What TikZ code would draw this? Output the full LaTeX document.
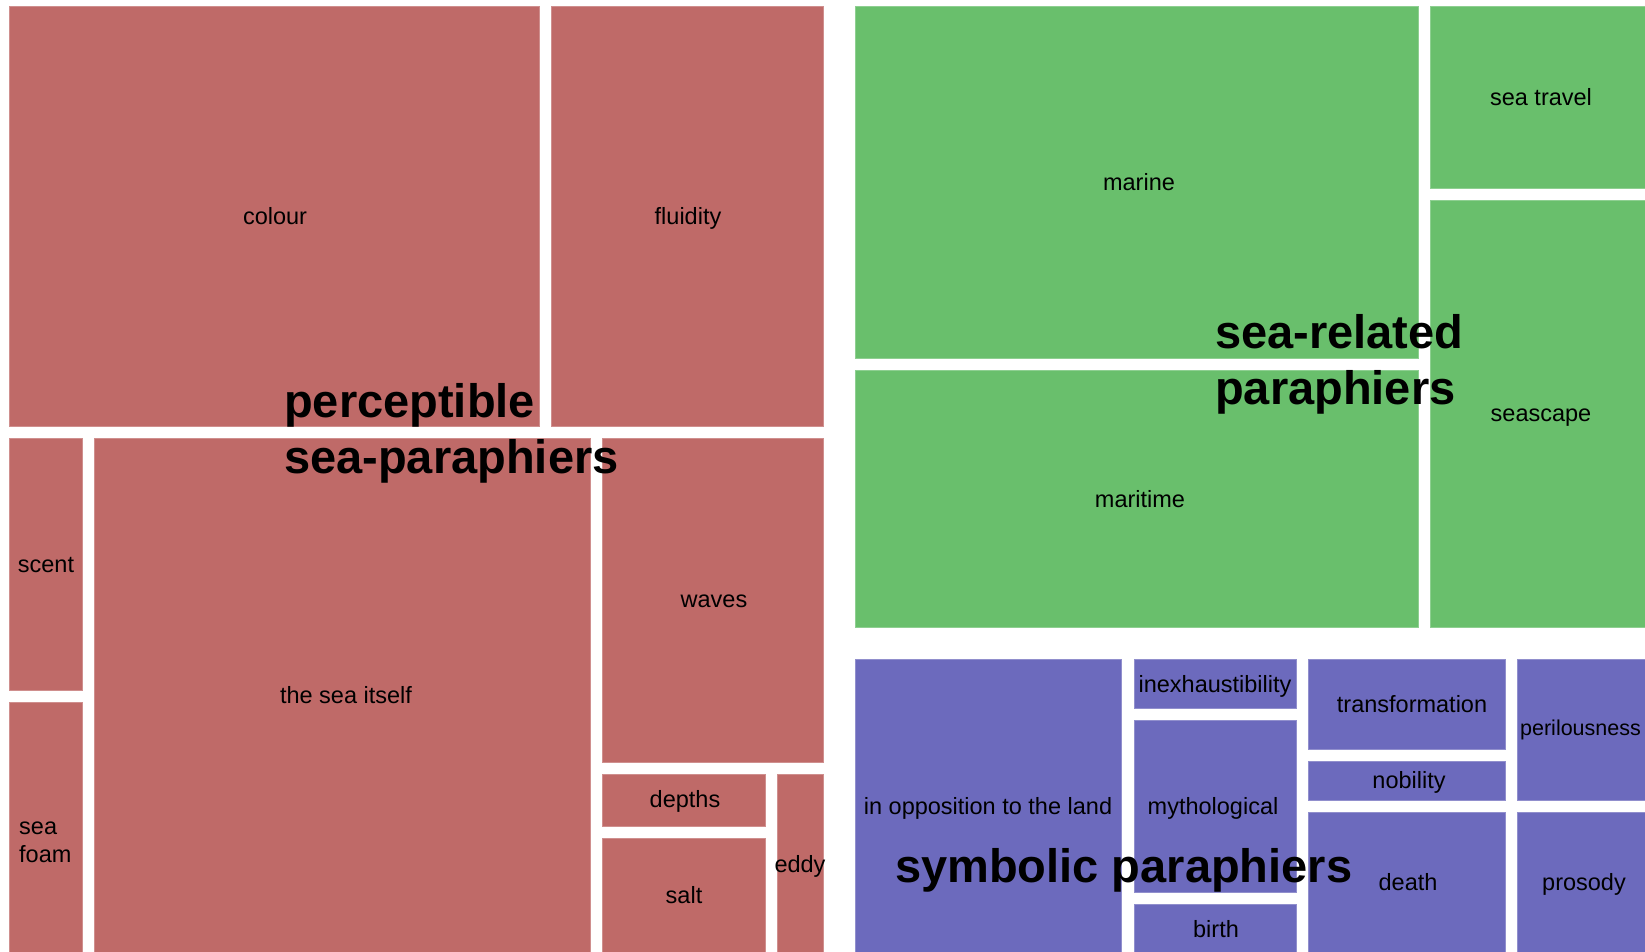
\documentclass[tikz,border=0pt]{standalone}
\usepackage{fontspec}
\setmainfont{Liberation Sans}
\definecolor{tmred}{RGB}{191,106,104}
\definecolor{tmgreen}{RGB}{105,191,108}
\definecolor{tmblue}{RGB}{108,106,189}
\begin{document}
\begin{tikzpicture}[x=1pt,y=-1pt,
  cellbox/.style={line width=0.8pt},
  rcell/.style={cellbox, fill=tmred, draw=tmred!75!white},
  gcell/.style={cellbox, fill=tmgreen, draw=tmgreen!75!white},
  bcell/.style={cellbox, fill=tmblue, draw=tmblue!75!white},
  lbl/.style={font=\fontsize{23.5}{28}\selectfont, inner sep=0pt, text=black},
  biglbl/.style={font=\fontsize{47}{56}\selectfont\bfseries, align=left, inner sep=0pt, anchor=west, text=black}]
\useasboundingbox[fill=white] (0,0) rectangle (1645,952);
% red group
\path[rcell] (9,6) rectangle (539,426);
\node[lbl] (colour) at (275,216) {colour};
\path[rcell] (551,6) rectangle (823,426);
\node[lbl] (fluidity) at (688,218) {fluidity};
\path[rcell] (9,438) rectangle (82,690);
\node[lbl] (scent) at (46,565) {scent};
\path[rcell] (9,702) rectangle (82,952);
\node[lbl, align=left, anchor=west] (seafoam) at (19,842) {sea\\foam};
\path[rcell] (94,438) rectangle (590,952);
\node[lbl] (seaitself) at (346,695) {the sea itself};
\path[rcell] (602,438) rectangle (823,762);
\node[lbl] (waves) at (714,601) {waves};
\path[rcell] (602,774) rectangle (765,826);
\node[lbl] (depths) at (685,801) {depths};
\path[rcell] (602,838) rectangle (765,952);
\node[lbl] (salt) at (684,895) {salt};
\path[rcell] (777,774) rectangle (823,952);
\node[lbl] (eddy) at (800,866) {eddy};
% green group
\path[gcell] (855,6) rectangle (1418,358);
\node[lbl] (marine) at (1139,182) {marine};
\path[gcell] (855,370) rectangle (1418,627);
\node[lbl] (maritime) at (1140,499) {maritime};
\path[gcell] (1430,6) rectangle (1645,188);
\node[lbl] (seatravel) at (1541,97) {sea travel};
\path[gcell] (1430,200) rectangle (1645,627);
\node[lbl] (seascape) at (1541,418) {seascape};
% blue group
\path[bcell] (855,659) rectangle (1121,952);
\node[lbl] (opposition) at (988,808) {in opposition to the land};
\path[bcell] (1134,659) rectangle (1296,708);
\node[lbl] (inexhaust) at (1215,686) {inexhaustibility};
\path[bcell] (1134,720) rectangle (1296,892);
\node[lbl] (mytho) at (1213,808) {mythological};
\path[bcell] (1134,904) rectangle (1296,952);
\node[lbl] (birth) at (1216,929) {birth};
\path[bcell] (1308,659) rectangle (1505,749);
\node[lbl] (transf) at (1412,704) {transformation};
\path[bcell] (1308,761) rectangle (1505,800);
\node[lbl] (nobility) at (1409,782) {nobility};
\path[bcell] (1308,812) rectangle (1505,952);
\node[lbl] (death) at (1408,882) {death};
\path[bcell] (1517,659) rectangle (1645,800);
\node[lbl, font=\fontsize{21.5}{26}\selectfont] (peril) at (1580.5,730) {perilousness};
\path[bcell] (1517,812) rectangle (1645,952);
\node[lbl] (prosody) at (1584,884) {prosody};
% group labels
\node[biglbl] (perceptible) at (284,433.5) {perceptible\\sea-paraphiers};
\node[biglbl] (searelated) at (1215,364.5) {sea-related\\paraphiers};
\node[biglbl] (symbolic) at (895,870) {symbolic paraphiers};
\end{tikzpicture}
\end{document}
